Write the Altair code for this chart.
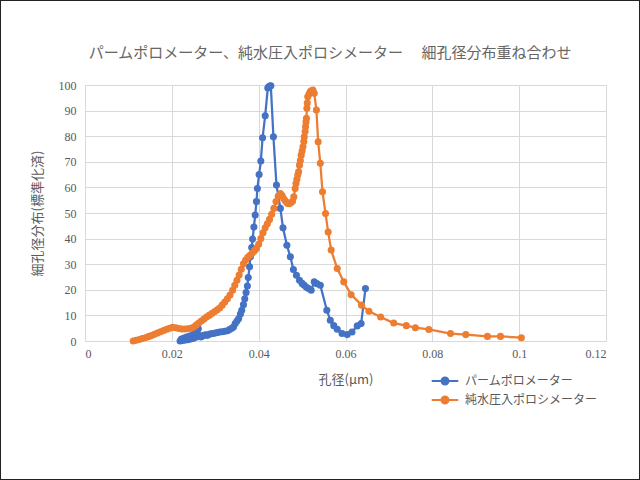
import altair as alt
import pandas as pd

series_names = ["パームポロメーター", "純水圧入ポロシメーター"]
series_colors = ["#4472C4", "#ED7D31"]

blue_x = [0.0219, 0.0222, 0.0225, 0.0228, 0.0231, 0.0234, 0.0237, 0.0240, 0.0243, 0.0246,
          0.0249, 0.0252, 0.0255, 0.0258, 0.0261, 0.0264, 0.0267, 0.0270, 0.0274, 0.0278,
          0.0282, 0.0286, 0.0290, 0.0295, 0.0300, 0.0305, 0.0310, 0.0316, 0.0322, 0.0328,
          0.0333, 0.0338, 0.0342, 0.0346, 0.0350, 0.0354, 0.0358, 0.0361, 0.0365, 0.0368,
          0.0371, 0.0374, 0.0376, 0.0379, 0.0381, 0.0384, 0.0386, 0.0389, 0.0392, 0.0395,
          0.0397, 0.0401, 0.0405, 0.0409, 0.0415, 0.0421, 0.0423, 0.0426, 0.0428, 0.0434,
          0.0441, 0.0450, 0.0456, 0.0465, 0.0473, 0.0480, 0.0487, 0.0494, 0.0500, 0.0505,
          0.0510, 0.0515, 0.0521, 0.0528, 0.0534, 0.0542, 0.0557, 0.0565, 0.0573, 0.0581,
          0.0592, 0.0604, 0.0615, 0.0627, 0.0636, 0.0646]
blue_y = [0.0, 0.8, 0.2, 1.2, 0.4, 1.5, 0.5, 1.8, 0.8, 2.2,
          1.0, 2.8, 1.5, 3.5, 4.8, 2.0, 1.6, 2.0, 2.2, 2.4,
          2.2, 2.6, 2.8, 2.9, 3.1, 3.3, 3.5, 3.6, 3.8, 4.0,
          4.5, 5.0, 5.5, 6.8, 7.8, 8.8, 10.5, 12.0, 14.2, 16.5,
          18.9, 21.5, 24.8, 29.0, 32.9, 36.5, 39.8, 44.5, 49.2, 54.5,
          59.6, 65.0, 70.3, 79.4, 88.0, 98.8, 99.3, 99.6, 99.7, 79.8,
          60.9, 51.8, 44.2, 37.4, 32.9, 27.9, 25.7, 23.7, 22.5, 21.8,
          21.0, 20.5, 19.8, 23.1, 22.4, 21.8, 12.0, 8.1, 6.0, 4.6,
          2.9, 2.5, 3.5, 5.9, 6.8, 20.5]

orange_x = [0.0111, 0.0118, 0.0125, 0.0132, 0.0139, 0.0146, 0.0153, 0.0160, 0.0167, 0.0174,
            0.0181, 0.0188, 0.0195, 0.0202, 0.0209, 0.0216, 0.0223, 0.0230, 0.0237, 0.0244,
            0.0250, 0.0256, 0.0262, 0.0268, 0.0274, 0.0280, 0.0286, 0.0292, 0.0298, 0.0304,
            0.0310, 0.0316, 0.0322, 0.0328, 0.0334, 0.0340, 0.0345, 0.0350, 0.0355, 0.0360,
            0.0365, 0.0370, 0.0375, 0.0380, 0.0385, 0.0390, 0.0395, 0.0400, 0.0405, 0.0410,
            0.0415, 0.0420, 0.0425, 0.0430, 0.0435, 0.0440, 0.0445, 0.0450, 0.0454, 0.0458,
            0.0462, 0.0466, 0.0470, 0.0474, 0.0478, 0.0481, 0.0484, 0.0486, 0.0488, 0.0490,
            0.0492, 0.0494, 0.0496, 0.0498, 0.0500, 0.0502, 0.0504, 0.0505, 0.0507, 0.0508,
            0.0509, 0.0510, 0.0511, 0.0512, 0.0513, 0.0516, 0.0519, 0.0522, 0.0525, 0.0528,
            0.0533, 0.0537, 0.0542, 0.0547, 0.0554, 0.0560, 0.0567, 0.0581, 0.0596, 0.0613,
            0.0637, 0.0654, 0.0681, 0.0711, 0.0740, 0.0761, 0.0792, 0.0842, 0.0877, 0.0927,
            0.0957, 0.1005]
orange_y = [0.0, 0.3, 0.6, 1.0, 1.3, 1.7, 2.1, 2.6, 3.1, 3.6,
            4.1, 4.6, 5.0, 5.4, 5.2, 4.9, 4.7, 4.7, 4.8, 5.0,
            5.4, 6.2, 7.0, 7.8, 8.6, 9.4, 10.0, 10.7, 11.4, 12.1,
            12.9, 14.0, 15.2, 16.5, 18.0, 19.8, 21.8, 23.7, 25.8, 28.0,
            30.2, 31.6, 32.7, 33.5, 34.3, 35.2, 36.1, 37.8, 40.0, 42.3,
            44.2, 45.8, 47.5, 49.5, 51.8, 54.5, 56.5, 57.6, 56.8, 55.6,
            54.6, 53.8, 53.6, 54.0, 54.6, 56.3, 59.6, 61.5, 63.2, 64.8,
            66.1, 68.7, 70.5, 72.6, 74.2, 75.9, 77.9, 79.8, 81.8, 83.7,
            85.5, 87.0, 90.9, 93.0, 95.4, 96.5, 97.4, 97.8, 98.0, 96.8,
            90.2, 77.8, 69.4, 58.3, 49.8, 42.6, 35.5, 28.3, 23.1, 18.1,
            14.0, 11.6, 9.4, 7.0, 6.0, 5.2, 4.5, 2.9, 2.5, 1.8,
            1.8, 1.3]

x_ticks = [0, 0.02, 0.04, 0.06, 0.08, 0.1, 0.12]
y_ticks = [0, 10, 20, 30, 40, 50, 60, 70, 80, 90, 100]

title_text = "パームポロメーター、純水圧入ポロシメーター　 細孔径分布重ね合わせ"
x_title = "孔径(μm)"
y_title = "細孔径分布(標準化済)"

rows = []
for name, xs, ys in [(series_names[0], blue_x, blue_y), (series_names[1], orange_x, orange_y)]:
    for i, (xv, yv) in enumerate(zip(xs, ys)):
        rows.append({"series": name, "x": xv, "y": yv, "i": i})
df = pd.DataFrame(rows)

jp = "Noto Sans CJK JP"
num_font = "Liberation Serif"
gray = "#595959"

# line from -2 to 2 (twice the symbol box), small filled circle in the middle
legend_symbol = "M-1.9,0L1.9,0M-0.5,0a0.5,0.5 0 1,0 1,0a0.5,0.5 0 1,0 -1,0Z"

color = alt.Color(
    "series:N",
    scale=alt.Scale(domain=series_names, range=series_colors),
    legend=alt.Legend(
        title=None, orient="none", legendX=352, legendY=288,
        symbolType=legend_symbol, symbolSize=196, symbolStrokeWidth=2,
        labelFont=jp, labelFontSize=12, labelColor=gray, rowPadding=3,
        labelOffset=12, padding=0,
    ),
)

x_enc = alt.X(
    "x:Q",
    scale=alt.Scale(domain=[0, 0.12], nice=False, zero=False),
    axis=alt.Axis(
        values=x_ticks, title=x_title, format=".2~f",
        titleFont=jp, titleFontSize=13, titleColor=gray, titleFontWeight="normal",
        titlePadding=14,
        labelFont=num_font, labelFontSize=12, labelColor=gray, labelPadding=7,
        ticks=False, domainColor="#d9d9d9", gridColor="#d9d9d9",
    ),
)
y_enc = alt.Y(
    "y:Q",
    scale=alt.Scale(domain=[0, 100], nice=False),
    axis=alt.Axis(
        values=y_ticks, title=y_title,
        titleFont=jp, titleFontSize=13, titleColor=gray, titleFontWeight="normal",
        titlePadding=14,
        labelFont=num_font, labelFontSize=12, labelColor=gray, labelPadding=9,
        ticks=False, domain=False, gridColor="#d9d9d9",
    ),
)

layers = []
for name in series_names:
    base = alt.Chart(df).transform_filter(alt.datum.series == name).encode(
        x=x_enc, y=y_enc, color=color, order="i:Q"
    )
    layers.append(base.mark_line(strokeWidth=2.25))
    layers.append(base.mark_circle(size=50, opacity=1))

one = pd.DataFrame({"t": [title_text]})

title_mark = alt.Chart(one).mark_text(
    font=jp, fontSize=15, color="#666666", align="center", baseline="middle"
).encode(text="t:N", x=alt.value(245), y=alt.value(-32))

frame = alt.Chart(one).mark_rect(
    fill=None, stroke="#222222", strokeWidth=2
).encode(x=alt.value(-85), x2=alt.value(555), y=alt.value(-85), y2=alt.value(395))

chart = alt.layer(*layers, title_mark, frame).properties(
    width=521,
    height=256,
    autosize="none",
    padding={"left": 85, "top": 85, "right": 34, "bottom": 139},
).configure_view(stroke=None).configure(background="white")

chart.save("out.html", embed_options={"renderer": "svg", "actions": False})
